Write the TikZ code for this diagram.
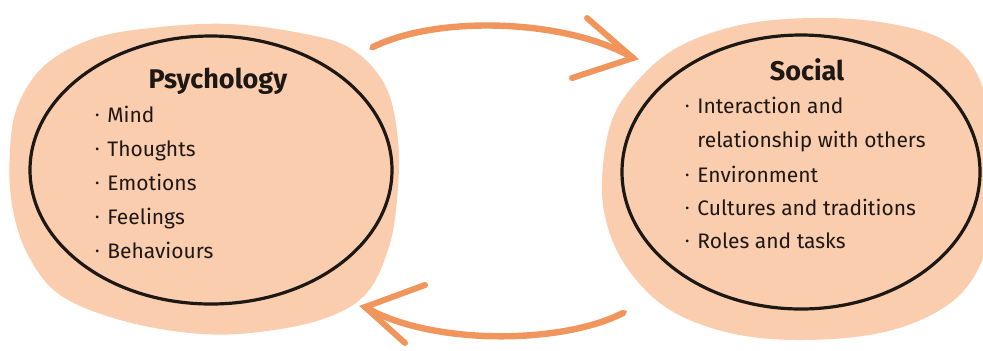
\documentclass[tikz,border=0pt]{standalone}
\usepackage{fontspec}
\setmainfont{Fira Sans}
\usetikzlibrary{shapes.geometric,calc}
\definecolor{peach}{HTML}{FACDAF}
\definecolor{arroworange}{HTML}{F0955C}
\definecolor{inkcolor}{HTML}{1E1814}
\newcommand\blt{\makebox[6pt][l]{\raisebox{1.2pt}{\fontsize{6}{6}\selectfont\textbullet}}}
\tikzset{
  blob/.style={fill=peach,draw=none},
  ring/.style={ellipse,draw=inkcolor,line width=1.6pt,inner sep=0pt},
  title/.style={anchor=base,inner sep=0pt,text=inkcolor,font=\fontsize{13.5}{16}\selectfont\bfseries},
  item/.style={anchor=base west,inner sep=0pt,text=inkcolor,font=\fontsize{10.5}{13}\selectfont},
  shaft/.style={arroworange,line width=3.2pt,line cap=round},
  wing/.style={arroworange,line width=3pt,line cap=round},
  tail/.style={arroworange,line width=1.4pt,line cap=round,dash pattern=on 1.5pt off 1.5pt}
}
\begin{document}
\begin{tikzpicture}[x=0.5pt,y=-0.5pt]
\useasboundingbox (0,0) rectangle (983,350);
% background blobs
\fill[blob] plot[smooth cycle,tension=.6] coordinates {(10,150) (18,105) (45,65) (95,38) (160,27) (230,24) (300,33) (350,48) (385,85) (398,140) (397,200) (388,250) (365,295) (320,320) (250,333) (190,333) (120,320) (60,295) (28,255) (12,205)};
\fill[blob] plot[smooth cycle,tension=.6] coordinates {(602,180) (612,120) (640,78) (680,46) (740,25) (810,18) (880,22) (940,38) (975,70) (992,130) (992,220) (975,275) (940,310) (880,333) (800,340) (730,333) (670,310) (630,272) (608,228)};
% circles
\node[ring,minimum width=181pt,minimum height=134pt] (psych) at (211,170) {};
\node[ring,minimum width=179pt,minimum height=137pt] (social) at (801,172) {};
% texts
\node[title] (psychtitle) at (218,88) {Psychology};
\foreach \t [count=\i] in {Mind,Thoughts,Emotions,Feelings,Behaviours}
  \node[item] (psych\i) at (95,{122+34*(\i-1)}) {\blt\t};
\node[title] (socialtitle) at (807,80) {Social};
\node[item] (social1) at (685,113) {\blt Interaction and};
\node[item] (social1b) at (685,147) {\hspace*{6pt}relationship with others};
\foreach \t [count=\i from 2] in {Environment,Cultures and traditions,Roles and tasks}
  \node[item] (social\i) at (685,{182+33*(\i-2)}) {\blt\t};
% arrows
\coordinate (toptail) at (373,47);
\coordinate (tophead) at (633,58);
\coordinate (bottail) at (623,313);
\coordinate (bothead) at (365,307);
\draw[tail] (toptail) -- ++(-3,2);
\draw[shaft] (toptail) .. controls (440,14) and (570,20) .. (tophead);
\draw[wing] (587,18) -- (tophead) -- (572,78);
\draw[tail] (bottail) -- ++(4,-2);
\draw[shaft] (bottail) .. controls (560,345) and (430,345) .. (bothead);
\draw[wing] (425,285) -- (bothead) -- (405,343);
\end{tikzpicture}
\end{document}
